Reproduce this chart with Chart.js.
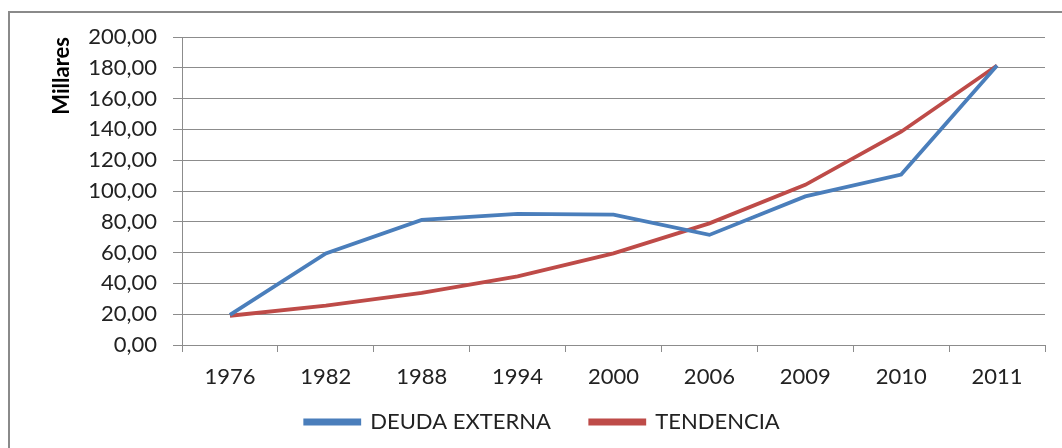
<!DOCTYPE html>
<html lang="es">
<head>
    <meta charset="UTF-8">
    <title>Deuda externa</title>
    <script src="https://cdn.jsdelivr.net/npm/chart.js@4.4.1/dist/chart.umd.min.js"></script>
    <style>
        html, body { margin: 0; padding: 0; background: #fff; }
        #wrap { position: relative; width: 1062px; height: 448px; overflow: hidden; }
        #frame { position: absolute; left: 8px; top: 11px; width: 1100px; height: 500px;
                 border-left: 2px solid #8a8a8a; border-top: 2px solid #8a8a8a; }
        #box { position: absolute; left: 0; top: 0; width: 1062px; height: 448px; }
    </style>
</head>
<body>
<div id="wrap">
    <div id="frame"></div>
    <div id="box"><canvas id="grafico"></canvas></div>
</div>
<script>
    // datos (millares)
    var anios = ['1976', '1982', '1988', '1994', '2000', '2006', '2009', '2010', '2011'];
    var deudaExterna = [19.5, 59.5, 81.2, 85.2, 84.6, 71.5, 96.5, 110.7, 181.5];
    var tendencia = [19, 25.5, 33.8, 44.5, 59.5, 79, 104, 138.5, 181.5];

    var gris = '#8c8c8c';
    var fuente = 'Lato, "Open Sans", sans-serif';

    new Chart(document.getElementById('grafico'), {
        type: 'line',
        data: {
            labels: anios,
            datasets: [{
                label: 'DEUDA EXTERNA',
                data: deudaExterna,
                borderColor: '#4a7ebb',
                backgroundColor: '#4a7ebb',
                borderWidth: 3.8,
                pointRadius: 0,
                tension: 0
            }, {
                label: 'TENDENCIA',
                data: tendencia,
                borderColor: '#be4b48',
                backgroundColor: '#be4b48',
                borderWidth: 3.8,
                pointRadius: 0,
                tension: 0
            }]
        },
        options: {
            responsive: true,
            maintainAspectRatio: false,
            animation: false,
            layout: { padding: { left: 40, right: 17, top: 37, bottom: 5 } },
            plugins: {
                tooltip: { enabled: false },
                legend: {
                    position: 'bottom',
                    labels: {
                        boxWidth: 54,
                        boxHeight: 3,
                        padding: 12,
                        color: '#222',
                        font: { family: fuente, size: 22 },
                        // un poco mas de aire entre las dos entradas, como en el original
                        generateLabels: function(chart) {
                            var items = Chart.defaults.plugins.legend.labels.generateLabels(chart);
                            items[0].text = items[0].text + '\u00a0\u00a0\u00a0\u00a0\u00a0';
                            return items;
                        }
                    }
                }
            },
            scales: {
                x: {
                    offset: true,
                    afterFit: function(s) { s.height = 54; },
                    grid: { offset: true, drawOnChartArea: false, color: gris, tickLength: 7 },
                    border: { color: gris },
                    ticks: { color: '#222', padding: 12, font: { family: fuente, size: 22 } }
                },
                y: {
                    min: 0,
                    max: 200,
                    afterFit: function(s) { s.width = 142; },
                    ticks: {
                        stepSize: 20,
                        color: '#222',
                        padding: 16,
                        font: { family: fuente, size: 22 },
                        callback: function(v) { return v.toFixed(2).replace('.', ','); }
                    },
                    grid: { color: gris, tickLength: 9 },
                    border: { color: gris },
                    title: {
                        display: true,
                        text: 'Millares',
                        align: 'end',
                        color: '#000',
                        padding: { top: 9, bottom: 0 },
                        font: { family: fuente, size: 22, weight: 'bold' }
                    }
                }
            }
        }
    });
</script>
</body>
</html>
